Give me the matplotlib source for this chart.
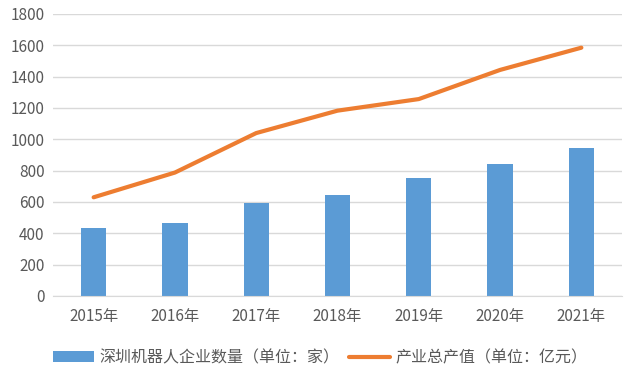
import matplotlib
matplotlib.use("Agg")
import matplotlib.pyplot as plt
import numpy as np

years = ["2015年", "2016年", "2017年", "2018年", "2019年", "2020年", "2021年"]
companies = [434, 468, 592, 647, 753, 842, 944]
output_value = [630, 788, 1040, 1183, 1257, 1443, 1585]
yticks = [0, 200, 400, 600, 800, 1000, 1200, 1400, 1600, 1800]

plt.rcParams['font.family'] = ['Noto Sans CJK SC', 'DejaVu Sans']
text_color = "#595959"

fig = plt.figure(figsize=(6.4, 3.77), dpi=100)
ax = fig.add_axes([53/640, 1-296/377, 569/640, 282/377])

x = np.arange(len(years))
bars = ax.bar(x, companies, width=0.31, color="#5B9BD5", label="深圳机器人企业数量（单位：家）", zorder=2)
line, = ax.plot(x, output_value, color="#ED7D31", linewidth=3, label="产业总产值（单位：亿元）", zorder=3,
                solid_capstyle="round")

ax.set_xlim(-0.5, len(years) - 0.5)
ax.set_ylim(0, 1800)
ax.set_yticks(yticks)
ax.set_yticklabels([str(v) for v in yticks])
ax.set_xticks(x)
ax.set_xticklabels(years)
ax.grid(axis="y", color="#D9D9D9", linewidth=1, zorder=0)
for s in ["top", "right", "left"]:
    ax.spines[s].set_visible(False)
ax.spines["bottom"].set_color("#D9D9D9")
ax.tick_params(axis="both", length=0, colors=text_color, labelsize=11)
ax.tick_params(axis="x", pad=9)
ax.tick_params(axis="y", pad=6)

leg = fig.legend(handles=[bars, line], loc="lower center", bbox_to_anchor=(0.5, -0.01), ncol=2,
                 frameon=False, fontsize=11.5, handlelength=2.6, columnspacing=0.6, handletextpad=0.3)
for t in leg.get_texts():
    t.set_color(text_color)

fig.savefig("out.png", dpi=100)
